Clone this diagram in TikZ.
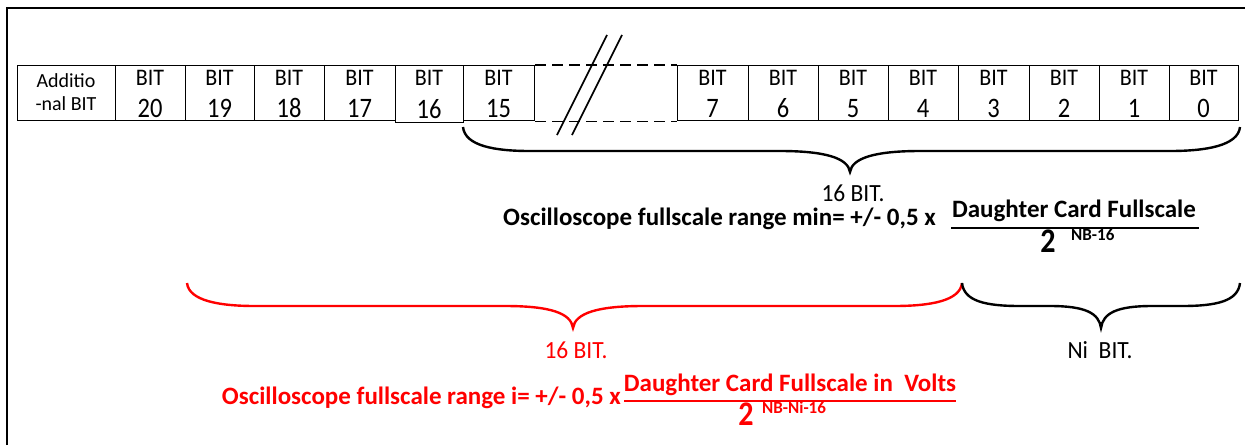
\documentclass[tikz,border=0pt]{standalone}
\usepackage{graphicx}
\usepackage{fontspec}
\setmainfont{Carlito}
\newcommand\stretchy[2]{\scalebox{1}[#1]{#2}}
\begin{document}
\begin{tikzpicture}[x=1pt,y=-1pt,
  bitbox/.style={draw, line width=1.3pt, minimum height=55pt, inner sep=0pt},
  bittxt/.style={inner sep=0pt, anchor=base, font=\fontsize{22}{24}\selectfont},
  bitnum/.style={inner sep=0pt, anchor=base, font=\fontsize{24.5}{26}\selectfont},
  frameline/.style={line width=2.8pt},
  bracestyle/.style={line width=2.4pt},
  lbl/.style={inner sep=0pt, font=\fontsize{23.5}{26}\selectfont},
  formula/.style={inner sep=0pt, font=\bfseries\fontsize{25}{28}\selectfont},
  bigtwo/.style={inner sep=0pt, font=\bfseries\fontsize{30}{32}\selectfont},
  expo/.style={inner sep=0pt, anchor=west, font=\bfseries\fontsize{17}{19}\selectfont},
]
\newcommand\bitcell[4]{%
  \node[bitbox, minimum width=#3pt, anchor=north west] (#1) at (#2,65) {};
  \node[bittxt] (#1t) at (#2+#3/2,85) {\stretchy{1.08}{BIT}};
  \node[bitnum] (#1n) at (#2+#3/2,117) {\stretchy{1.15}{#4}};
}
\useasboundingbox (0,0) rectangle (1245,445);
% frame
\coordinate (fTL) at (7,8);
\coordinate (fTR) at (1245,8);
\coordinate (fBL) at (7,445);
\draw[frameline] (fBL) -- (fTL) -- (fTR);
% boxes
\node[bitbox, minimum width=98pt, anchor=north west] (add) at (17,65) {};
\node[inner sep=0pt, anchor=base, font=\fontsize{20}{22}\selectfont] (addt) at (66,87) {Additio};
\node[inner sep=0pt, anchor=base, font=\fontsize{20}{22}\selectfont] (addn) at (66,110) {-nal BIT};
\bitcell{b20}{115}{70}{20}
\bitcell{b19}{185}{69}{19}
\bitcell{b18}{254}{70}{18}
\bitcell{b17}{324}{71}{17}
\node[bitbox, minimum width=68pt, minimum height=57pt, anchor=north west] (b16) at (395,65) {};
\node[bittxt] (b16t) at (429,85) {\stretchy{1.08}{BIT}};
\node[bitnum] (b16n) at (429,118) {\stretchy{1.15}{16}};
\bitcell{b15}{463}{71}{15}
\bitcell{b7}{677}{71}{7}
\bitcell{b6}{748}{70}{6}
\bitcell{b5}{818}{70}{5}
\bitcell{b4}{888}{70}{4}
\bitcell{b3}{958}{71}{3}
\bitcell{b2}{1029}{70}{2}
\bitcell{b1}{1099}{70}{1}
\bitcell{b0}{1169}{69}{0}
% dashed continuation
\draw[line width=1.3pt, dash pattern=on 11pt off 6pt] (b15.north east) -- (b7.north west);
\draw[line width=1.3pt, dash pattern=on 11pt off 6pt] (b15.south east) -- (b7.south west);
% break slashes
\coordinate (s1a) at (557,135); \coordinate (s1b) at (607,35);
\coordinate (s2a) at (572,135); \coordinate (s2b) at (622,35);
\draw[line width=1.7pt] (s1a) -- (s1b);
\draw[line width=1.7pt] (s2a) -- (s2b);
% top brace (black)
\coordinate (tb1) at (463,127); \coordinate (tbtip) at (850,172); \coordinate (tb2) at (1240,127);
\draw[bracestyle] (tb1) .. controls (465,146) and (495,151) .. (530,151) -- (780,151)
   .. controls (825,151) and (848,158) .. (tbtip)
   .. controls (852,158) and (875,151) .. (920,151) -- (1170,151)
   .. controls (1205,151) and (1238,146) .. (tb2);
\node[lbl] (t16) at (853,193) {\stretchy{1.05}{16 BIT.}};
\node[formula, anchor=east] (fmin) at (936,219) {Oscilloscope fullscale range min= +/- 0,5 x};
\node[formula] (fminnum) at (1074,211) {Daughter Card Fullscale};
\coordinate (fl1a) at (951,228); \coordinate (fl1b) at (1199,228);
\draw[line width=1.3pt] (fl1a) -- (fl1b);
\node[bigtwo] (fmin2) at (1048,241) {\stretchy{1.15}{2}};
\node[expo] (fminexp) at (1071,235) {NB-16};
% red brace
\coordinate (rb1) at (187,283); \coordinate (rbtip) at (573,328); \coordinate (rb2) at (962,283);
\draw[bracestyle, red] (rb1) .. controls (189,301) and (220,306) .. (255,306) -- (505,306)
   .. controls (550,306) and (571,313) .. (rbtip)
   .. controls (575,313) and (598,306) .. (643,306) -- (894,306)
   .. controls (930,306) and (960,301) .. (rb2);
% black brace (Ni)
\coordinate (nbtip) at (1101,328); \coordinate (nb2) at (1240,283);
\draw[bracestyle] (rb2) .. controls (964,301) and (985,306) .. (1020,306) -- (1050,306)
   .. controls (1085,306) and (1099,313) .. (nbtip)
   .. controls (1103,313) and (1117,306) .. (1152,306) -- (1182,306)
   .. controls (1217,306) and (1238,301) .. (nb2);
\node[lbl, red] (r16) at (576,350) {\stretchy{1.05}{16 BIT.}};
\node[lbl] (ni) at (1100,350) {\stretchy{1.05}{Ni\ \ BIT.}};
\node[formula, red, anchor=east] (fi) at (621,398) {Oscilloscope fullscale range i= +/- 0,5 x};
\node[formula, red] (finum) at (790,385) {Daughter Card Fullscale in\ \ Volts};
\coordinate (fl2a) at (624,401); \coordinate (fl2b) at (956,401);
\draw[line width=1.3pt, red] (fl2a) -- (fl2b);
\node[bigtwo, red] (fi2) at (746,414) {\stretchy{1.15}{2}};
\node[expo, red] (fiexp) at (762,408) {NB-Ni-16};
\end{tikzpicture}
\end{document}
